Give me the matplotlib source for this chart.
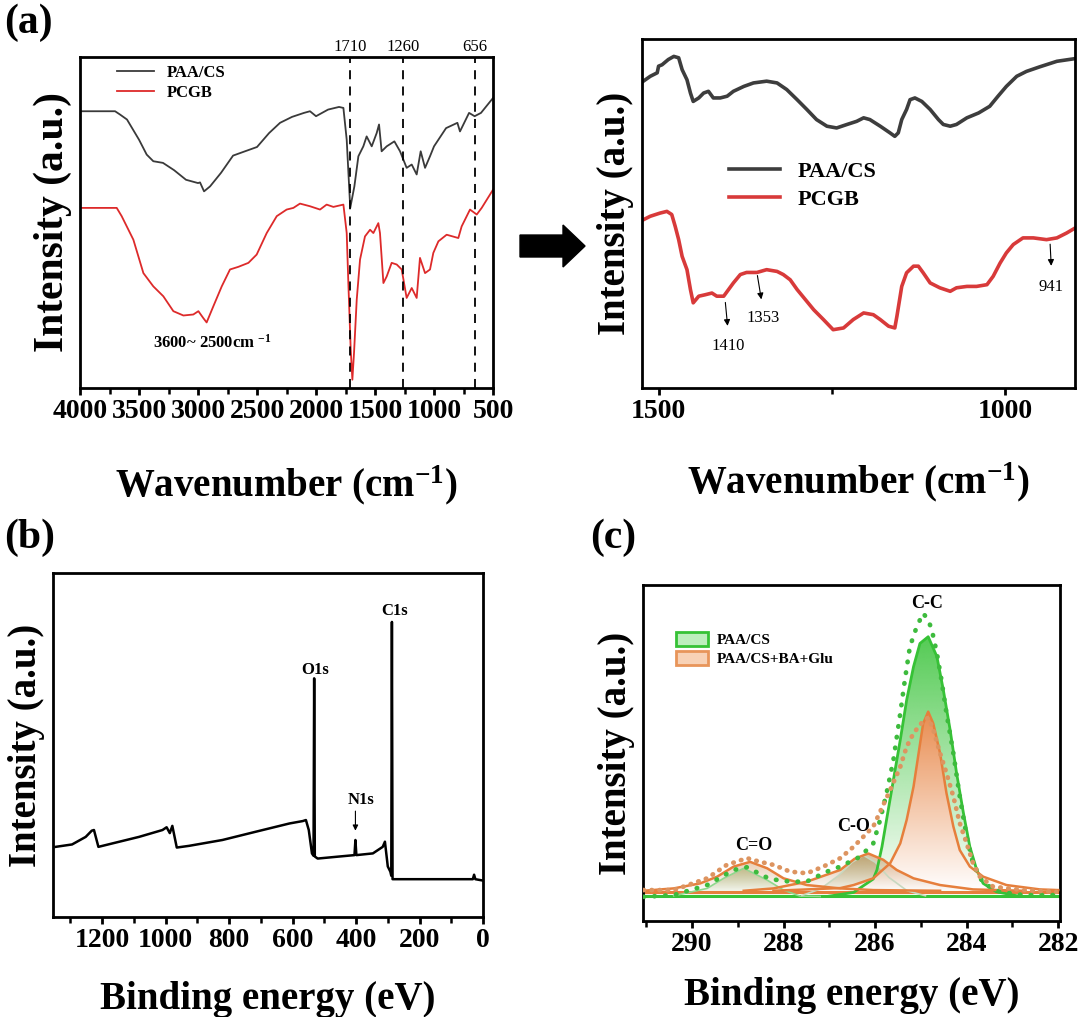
import matplotlib
matplotlib.use('Agg')
import matplotlib.pyplot as plt
import matplotlib.colors as mcolors
import matplotlib.transforms as mtransforms
import numpy as np
from matplotlib.patches import FancyArrow, Patch
from matplotlib.ticker import MultipleLocator

plt.rcParams['font.family'] = ['Liberation Serif', 'DejaVu Serif']
plt.rcParams['font.weight'] = 'bold'
plt.rcParams['axes.labelweight'] = 'bold'
plt.rcParams['mathtext.fontset'] = 'custom'
plt.rcParams['mathtext.rm'] = 'Liberation Serif:bold'
plt.rcParams['mathtext.bf'] = 'Liberation Serif:bold'
plt.rcParams['mathtext.default'] = 'bf'
plt.rcParams['axes.linewidth'] = 2

# ---- (a) FTIR full range ----
w_paa = [4000, 3703, 3661, 3602, 3500, 3435, 3379, 3297, 3203, 3102, 3000, 2983, 2949, 2898, 2805,
         2703, 2602, 2500, 2398, 2305, 2203, 2102, 2051, 2000, 1898, 1805, 1768, 1740, 1710, 1675,
         1641, 1599, 1571, 1528, 1486, 1466, 1444, 1401, 1336, 1288, 1232, 1189, 1147, 1113, 1076,
         1034, 1000, 898, 802, 780, 703, 656, 602, 500]
i_paa = [83.6, 83.6, 82.6, 81.1, 75.0, 70.5, 68.5, 68.0, 65.8, 62.9, 61.9, 62.1, 59.4, 60.9, 65.0,
         70.2, 71.5, 72.8, 77.0, 80.1, 81.9, 83.1, 83.6, 82.1, 84.1, 84.9, 84.6, 75.0, 54.4, 60.9,
         70.0, 73.0, 76.0, 73.0, 77.0, 79.6, 71.5, 73.0, 74.5, 71.5, 66.5, 67.5, 64.5, 71.5, 66.5,
         70.0, 73.0, 78.5, 80.1, 77.5, 83.1, 82.1, 83.1, 87.6]
w_pcgb = [4000, 3689, 3647, 3548, 3463, 3379, 3294, 3209, 3124, 3040, 2997, 2955, 2927, 2870, 2799,
          2729, 2658, 2573, 2503, 2418, 2333, 2249, 2192, 2136, 2051, 1966, 1910, 1853, 1768, 1740,
          1726, 1706, 1692, 1678, 1655, 1627, 1585, 1542, 1514, 1472, 1458, 1429, 1401, 1359, 1316,
          1274, 1232, 1189, 1147, 1119, 1076, 1034, 1006, 963, 893, 794, 766, 695, 638, 596, 500]
i_pcgb = [54.4, 54.4, 51.9, 44.8, 34.7, 30.7, 27.7, 23.2, 21.9, 22.2, 23.2, 21.1, 19.8, 24.7, 30.7,
          35.8, 36.6, 37.8, 40.3, 46.8, 51.9, 53.9, 54.4, 55.7, 54.9, 53.9, 55.4, 54.7, 55.4, 46.8,
          31.7, 11.6, 2.5, 10.6, 26.7, 38.8, 45.8, 47.8, 46.8, 49.8, 46.8, 31.7, 33.7, 37.8, 37.3,
          35.8, 27.2, 30.2, 27.2, 39.3, 34.7, 35.8, 40.8, 44.3, 46.3, 45.3, 48.8, 53.9, 52.4, 54.4, 59.9]
marked_peaks = [1710, 1260, 656]

# ---- (a) zoomed region ----
wz_paa = [1522, 1512, 1502, 1500, 1495, 1486, 1478, 1471, 1466, 1459, 1454, 1450, 1442, 1435, 1428,
          1421, 1411, 1401, 1392, 1377, 1363, 1344, 1329, 1315, 1300, 1286, 1272, 1257, 1243, 1228,
          1214, 1204, 1195, 1180, 1166, 1159, 1154, 1149, 1142, 1137, 1130, 1120, 1108, 1096, 1089,
          1079, 1070, 1055, 1038, 1022, 1010, 998, 983, 969, 950, 925, 901]
iz_paa = [87.9, 89.3, 90.3, 92.2, 92.6, 94.1, 95.0, 94.6, 91.2, 88.3, 84.5, 82.1, 83.1, 84.5, 85.0,
          83.1, 83.1, 83.6, 85.0, 86.4, 87.4, 87.9, 87.4, 85.5, 82.6, 79.8, 76.9, 75.0, 74.5, 75.5,
          76.4, 77.4, 76.9, 75.0, 73.1, 72.1, 73.1, 76.9, 79.8, 82.6, 83.1, 82.1, 79.8, 76.9, 75.5,
          75.0, 75.5, 77.4, 78.8, 80.7, 83.6, 86.4, 89.3, 90.7, 92.0, 93.6, 94.3]
wz_pcgb = [1522, 1512, 1498, 1488, 1481, 1476, 1471, 1466, 1459, 1454, 1450, 1442, 1433, 1423, 1416,
           1406, 1399, 1392, 1382, 1373, 1358, 1344, 1329, 1320, 1310, 1300, 1288, 1276, 1262, 1248,
           1233, 1219, 1204, 1190, 1180, 1168, 1159, 1156, 1149, 1142, 1132, 1125, 1118, 1108, 1094,
           1079, 1070, 1055, 1041, 1026, 1017, 1007, 998, 988, 974, 959, 940, 925, 911, 899]
iz_pcgb = [48.2, 49.2, 50.1, 50.6, 49.7, 46.3, 42.5, 37.7, 33.9, 28.2, 24.4, 26.3, 26.7, 27.2, 26.3,
           26.3, 28.2, 30.1, 32.5, 33.1, 33.1, 33.9, 33.4, 32.5, 31.0, 28.2, 25.3, 22.4, 19.6, 16.7,
           17.2, 19.6, 21.5, 21.0, 19.6, 17.7, 17.2, 20.5, 29.1, 33.0, 34.9, 34.9, 33.0, 30.1, 28.7,
           27.7, 28.7, 29.1, 29.1, 29.6, 32.0, 35.8, 38.7, 41.1, 43.0, 43.0, 42.5, 43.0, 44.4, 45.8]
# label, arrow start (w, I), arrow end (w, I), text position (w, I)
zoom_marks = [('1410', (1404, 25.3), (1400, 17.0), (1399, 12.0)),
              ('1353', (1358, 33.0), (1351, 24.6), (1349, 20.0)),
              ('941', (935, 42.0), (933, 34.2), (933, 29.0))]

# ---- (b) XPS survey ----
e_survey = [1347, 1295, 1252, 1233, 1226, 1212, 1168, 1084, 1010, 997, 987, 979, 965, 926, 821,
            716, 610, 568, 558, 549, 539, 534, 532, 530, 521, 452, 405, 402, 399, 347, 316, 309,
            300, 292, 289, 287, 285, 137, 32, 28, 24, 0]
i_survey = [20.4, 21.1, 23.3, 25.1, 25.3, 20.4, 21.4, 23.3, 25.3, 26.1, 24.4, 26.5, 20.2, 20.7, 22.4,
            24.8, 27.2, 27.9, 28.2, 25.3, 18.5, 17.8, 69.4, 17.6, 17.0, 17.6, 18.0, 22.4, 18.0, 18.5,
            20.4, 21.9, 14.7, 13.2, 12.0, 85.8, 11.0, 11.0, 11.0, 12.3, 11.0, 10.6]

# ---- (c) C1s high resolution ----
e_g_raw = [291.06, 290.4, 289.67, 289.09, 288.8, 288.3, 287.85, 287.5, 287.05, 286.76, 286.47, 286.33,
           286.04, 285.89, 285.75, 285.6, 285.45, 285.35, 285.24, 285.09, 284.95, 284.84, 284.76,
           284.65, 284.55, 284.44, 284.29, 284.15, 284.0, 283.86, 283.64, 283.27, 282.76, 282.04]
i_g_raw = [7.2, 7.7, 10.7, 15.2, 16.0, 12.5, 11.7, 11.7, 14.7, 16.2, 18.2, 19.1,
           23.1, 30.1, 38.0, 47.9, 61.8, 71.7, 81.6, 87.6, 91.6, 89.6, 86.6,
           79.7, 71.7, 61.8, 49.9, 37.0, 25.1, 17.2, 11.2, 8.7, 7.7, 7.7]
e_o_raw = [291.06, 290.4, 289.67, 289.24, 288.8, 288.51, 288.22, 287.86, 287.49, 287.13, 286.76,
           286.47, 286.04, 285.67, 285.45, 285.31, 285.16, 284.95, 284.84, 284.73, 284.58, 284.44,
           284.29, 284.15, 284.0, 283.86, 283.71, 283.42, 282.76, 282.04]
i_o_raw = [9.2, 9.2, 12.7, 16.7, 18.7, 17.6, 16.7, 14.7, 14.2, 16.2, 18.7,
           22.1, 28.1, 39.0, 45.9, 51.9, 55.9, 59.5, 60.5, 57.0, 49.9, 44.0,
           37.0, 29.1, 23.1, 17.2, 13.2, 10.2, 9.2, 8.7]
e_g_cc = [287.0, 286.47, 286.04, 285.96, 285.85, 285.75, 285.6, 285.45, 285.31, 285.16, 285.02, 284.84,
          284.65, 284.51, 284.36, 284.22, 284.07, 283.93, 283.78, 283.64, 283.35, 282.9]
i_g_cc = [7.4, 8.5, 12.5, 15.2, 22.1, 30.1, 42.0, 53.9, 65.8, 75.7, 82.6, 84.6,
          78.7, 68.8, 56.8, 44.0, 32.1, 22.1, 15.2, 11.2, 8.7, 7.5]
e_g_co = [287.6, 287.2, 286.8, 286.5, 286.25, 286.0, 285.7, 285.3, 284.9]
i_g_co = [7.6, 9.5, 13.5, 17.5, 19.5, 17.5, 13.0, 9.0, 7.5]
e_g_cdo = [290.4, 289.67, 289.31, 288.87, 288.36, 288.0, 287.64, 287.2]
i_g_cdo = [7.5, 9.7, 12.7, 15.7, 12.2, 9.2, 7.4, 7.3]
e_o_cc = [288.22, 286.76, 286.47, 286.04, 285.67, 285.45, 285.31, 285.16, 285.05, 284.95, 284.84,
          284.73, 284.58, 284.44, 284.29, 284.15, 283.93, 283.64, 283.13, 282.4, 282.0]
i_o_cc = [9.0, 9.8, 10.7, 12.7, 17.2, 23.1, 30.1, 40.0, 49.9, 58.8, 62.3,
          58.8, 49.9, 38.0, 28.1, 21.1, 16.2, 13.2, 10.7, 9.4, 9.2]
e_o_co = [288.87, 288.22, 287.49, 286.76, 286.45, 286.15, 285.82, 285.53, 285.16, 284.58, 283.86, 282.76]
i_o_co = [9.0, 9.7, 11.7, 15.2, 18.5, 20.1, 18.2, 15.2, 12.7, 10.7, 9.4, 9.0]
e_o_cdo = [291.06, 290.4, 289.82, 289.45, 289.09, 288.73, 288.36, 288.0, 287.49, 286.76, 286.04, 284.58]
i_o_cdo = [9.0, 9.7, 11.2, 13.2, 16.2, 17.6, 15.7, 12.7, 10.7, 9.7, 9.2, 9.0]
base_green = 7.3
base_orange = 8.7

GREEN = '#36c236'
ORANGE = '#e67f3c'


def style_axes(ax, ylabel_size=28):
    ax.set_yticks([])
    ax.tick_params(axis='x', which='major', direction='out', length=5, width=2, labelsize=20, pad=3)
    ax.tick_params(axis='x', which='minor', direction='out', length=4, width=1.8)
    ax.set_ylabel('Intensity (a.u.)', fontsize=ylabel_size, fontweight='bold', labelpad=6)
    ax.set_ylim(0, 100)


def gradient_fill(ax, x, y, base, color, alpha_top, zorder=1, opaque=False):
    # vertical gradient clipped to the area under a curve
    x = np.asarray(x, dtype=float)
    y = np.asarray(y, dtype=float)
    poly = ax.fill_between(x, y, base, facecolor='none', edgecolor='none')
    grad = np.zeros((256, 1, 4))
    frac = np.linspace(0, 1, 256)
    rgb = np.array(mcolors.to_rgb(color))
    if opaque:
        # blend white -> colour, fully covering what lies beneath
        mix = frac * alpha_top
        grad[:, 0, :3] = (1 - mix)[:, None] + mix[:, None] * rgb
        grad[:, 0, 3] = 1.0
    else:
        grad[:, 0, :3] = rgb
        grad[:, 0, 3] = frac * alpha_top
    im = ax.imshow(grad, aspect='auto', origin='lower', interpolation='bilinear',
                   extent=[x.min(), x.max(), base, y.max()], zorder=zorder)
    im.set_clip_path(poly.get_paths()[0], transform=ax.transData)


fig = plt.figure(figsize=(10.8, 10.17), dpi=100)

# (a) left
ax1 = fig.add_axes([0.0741, 0.6185, 0.3824, 0.3255])
ax1.plot(w_paa, i_paa, color='#3a3a3a', lw=1.3, label='PAA/CS')
ax1.plot(w_pcgb, i_pcgb, color='#dd2a2a', lw=1.3, label='PCGB')
trans = mtransforms.blended_transform_factory(ax1.transData, ax1.transAxes)
for p in marked_peaks:
    ax1.axvline(p, color='k', lw=1.3, ls=(0, (5, 4)))
    ax1.text(p, 1.005, str(p), transform=trans, ha='center', va='bottom',
             fontsize=12, fontweight='normal')
ax1.text(2880, 13.6, '3600~ 2500cm $^{-1}$', ha='center', va='center', fontsize=12)
ax1.set_xlim(4000, 500)
ax1.xaxis.set_major_locator(MultipleLocator(500))
ax1.xaxis.set_minor_locator(MultipleLocator(250))
style_axes(ax1, ylabel_size=30)
ax1.set_xlabel('Wavenumber (cm$^{-1}$)', fontsize=28, fontweight='bold', labelpad=28)
ax1.legend(loc='upper left', bbox_to_anchor=(0.09, 0.975), frameon=False, fontsize=12,
           handlelength=2.2, labelspacing=0.2, borderpad=0, borderaxespad=0)

# (a) right
ax2 = fig.add_axes([0.5944, 0.6185, 0.4009, 0.3432])
ax2.plot(wz_paa, iz_paa, color='#3d3d3d', lw=2.6, label='PAA/CS')
ax2.plot(wz_pcgb, iz_pcgb, color='#d83a3a', lw=2.6, label='PCGB')
for lab, start, end, tpos in zoom_marks:
    ax2.annotate('', xy=end, xytext=start,
                 arrowprops=dict(arrowstyle='-|>', lw=0.8, color='k', mutation_scale=9))
    ax2.text(tpos[0], tpos[1], lab, ha='center', va='center', fontsize=12, fontweight='normal')
ax2.set_xlim(1524, 899)
ax2.set_xticks([1500, 1000])
ax2.xaxis.set_minor_locator(MultipleLocator(250))
style_axes(ax2)
ax2.set_xlabel('Wavenumber (cm$^{-1}$)', fontsize=28, fontweight='bold', labelpad=26)
ax2.legend(loc='upper left', bbox_to_anchor=(0.2, 0.65), frameon=False, fontsize=16,
           handlelength=2.3, labelspacing=0.35, borderpad=0, borderaxespad=0)

# (b)
ax3 = fig.add_axes([0.0491, 0.0983, 0.3981, 0.3382])
ax3.plot(e_survey, i_survey, color='k', lw=1.8)
ax3.text(528, 71.8, 'O1s', ha='center', va='center', fontsize=12)
ax3.text(279, 89, 'C1s', ha='center', va='center', fontsize=12)
ax3.text(384, 34, 'N1s', ha='center', va='center', fontsize=12)
ax3.annotate('', xy=(402, 24.3), xytext=(402, 31.6),
             arrowprops=dict(arrowstyle='-|>', lw=0.8, color='k', mutation_scale=8))
ax3.set_xlim(1355, 0)
ax3.xaxis.set_major_locator(MultipleLocator(200))
ax3.xaxis.set_minor_locator(MultipleLocator(100))
style_axes(ax3)
ax3.set_xlabel('Binding energy (eV)', fontsize=28, fontweight='bold', labelpad=20)

# (c)
ax4 = fig.add_axes([0.5954, 0.0944, 0.3861, 0.3304])
gradient_fill(ax4, e_g_cc, i_g_cc, base_green, GREEN, 0.85, zorder=1)
gradient_fill(ax4, e_g_cdo, i_g_cdo, base_green, '#6f9a3a', 0.45, zorder=1)
gradient_fill(ax4, e_g_co, i_g_co, base_green, '#7a8a3a', 0.45, zorder=1)
gradient_fill(ax4, e_o_cc, i_o_cc, base_orange, ORANGE, 0.9, zorder=1.2, opaque=True)
gradient_fill(ax4, e_o_co, i_o_co, base_orange, '#b87a3a', 0.5, zorder=1.3)
gradient_fill(ax4, e_o_cdo, i_o_cdo, base_orange, '#c8884a', 0.4, zorder=1.3)
ax4.axhline(base_green, color=GREEN, lw=2.2, zorder=2)
ax4.axhline(base_orange, color=ORANGE, lw=2.2, zorder=2)
ax4.plot(e_g_cdo, i_g_cdo, color='#8fd88f', lw=1.2, zorder=2)
ax4.plot(e_g_co, i_g_co, color='#c8d8c0', lw=1.2, zorder=2)
ax4.plot(e_g_cc, i_g_cc, color=GREEN, lw=2.0, zorder=3)
ax4.plot(e_o_cdo, i_o_cdo, color=ORANGE, lw=1.8, zorder=3)
ax4.plot(e_o_co, i_o_co, color=ORANGE, lw=1.8, zorder=3)
ax4.plot(e_o_cc, i_o_cc, color=ORANGE, lw=1.8, zorder=3)
ax4.plot(e_g_raw, i_g_raw, color='#3dbb3d', lw=3.4, ls=(0, (0.1, 2.2)),
         dash_capstyle='round', zorder=4)
ax4.plot(e_o_raw, i_o_raw, color='#dd9460', lw=3.4, ls=(0, (0.1, 1.6)),
         dash_capstyle='round', zorder=4)
ax4.text(284.87, 94.5, 'C-C', ha='center', va='center', fontsize=13)
ax4.text(286.47, 28.1, 'C-O', ha='center', va='center', fontsize=13)
ax4.text(288.66, 22.6, 'C=O', ha='center', va='center', fontsize=13)
ax4.set_xlim(291.07, 281.96)
ax4.xaxis.set_major_locator(MultipleLocator(2))
ax4.xaxis.set_minor_locator(MultipleLocator(1))
style_axes(ax4)
ax4.set_xlabel('Binding energy (eV)', fontsize=28, fontweight='bold', labelpad=14)
handles = [Patch(facecolor='#bdeebd', edgecolor=GREEN, lw=2),
           Patch(facecolor='#f8d2b6', edgecolor='#e8955a', lw=2)]
ax4.legend(handles, ['PAA/CS', 'PAA/CS+BA+Glu'], loc='upper left', bbox_to_anchor=(0.079, 0.86),
           frameon=False, fontsize=11, handlelength=2.1, handleheight=1.0, labelspacing=0.25,
           borderpad=0, borderaxespad=0, handletextpad=0.6)

# panel labels
fig.text(0.004, 0.997, '(a)', fontsize=30, ha='left', va='top')
fig.text(0.004, 0.49, '(b)', fontsize=30, ha='left', va='top')
fig.text(0.546, 0.49, '(c)', fontsize=30, ha='left', va='top')

# big arrow between the FTIR panels
fig.patches.append(FancyArrow(0.4815, 0.7581, 0.0602, 0, width=0.0216, head_width=0.0413,
                              head_length=0.0204, length_includes_head=True,
                              color='k', transform=fig.transFigure, figure=fig))

fig.savefig('out.png', dpi=100)
